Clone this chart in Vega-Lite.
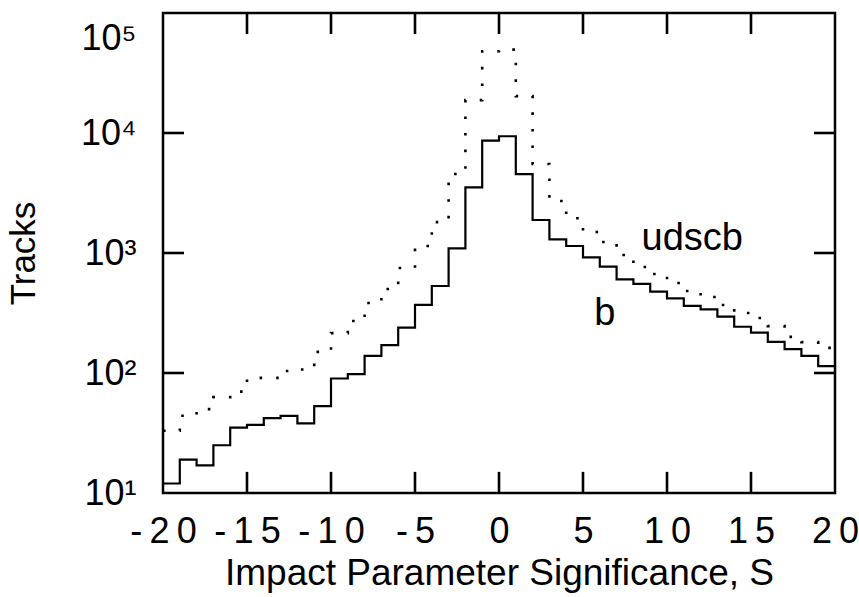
{
  "$schema": "https://vega.github.io/schema/vega-lite/v6.json",
  "width": 672,
  "height": 480,
  "autosize": {"type": "none"},
  "padding": {"left": 163, "top": 13, "right": 24, "bottom": 104},
  "background": "white",
  "config": {
    "view": {"stroke": "black", "strokeWidth": 2.5},
    "font": "Liberation Sans",
    "axis": {
      "grid": false,
      "domain": false,
      "labelColor": "black",
      "titleColor": "black",
      "labelFont": "Liberation Sans",
      "titleFont": "Liberation Sans",
      "titleFontWeight": "normal"
    }
  },
  "datasets": {
    "hist": [
      {"S": -20, "b": 12, "udscb": 33},
      {"S": -19, "b": 19, "udscb": 44},
      {"S": -18, "b": 17, "udscb": 50},
      {"S": -17, "b": 25, "udscb": 63},
      {"S": -16, "b": 35, "udscb": 70},
      {"S": -15, "b": 37, "udscb": 91},
      {"S": -14, "b": 42, "udscb": 91},
      {"S": -13, "b": 44, "udscb": 104},
      {"S": -12, "b": 38, "udscb": 107},
      {"S": -11, "b": 53, "udscb": 150},
      {"S": -10, "b": 90, "udscb": 215},
      {"S": -9, "b": 98, "udscb": 271},
      {"S": -8, "b": 139, "udscb": 383},
      {"S": -7, "b": 171, "udscb": 501},
      {"S": -6, "b": 239, "udscb": 750},
      {"S": -5, "b": 369, "udscb": 1144},
      {"S": -4, "b": 531, "udscb": 1810},
      {"S": -3, "b": 1094, "udscb": 4550},
      {"S": -2, "b": 3527, "udscb": 18800},
      {"S": -1, "b": 8630, "udscb": 48000},
      {"S": 0, "b": 9400, "udscb": 49500},
      {"S": 1, "b": 4550, "udscb": 20300},
      {"S": 2, "b": 1884, "udscb": 5520},
      {"S": 3, "b": 1300, "udscb": 2710},
      {"S": 4, "b": 1144, "udscb": 1950},
      {"S": 5, "b": 921, "udscb": 1496},
      {"S": 6, "b": 769, "udscb": 1235},
      {"S": 7, "b": 604, "udscb": 963},
      {"S": 8, "b": 552, "udscb": 765},
      {"S": 9, "b": 476, "udscb": 668},
      {"S": 10, "b": 419, "udscb": 562},
      {"S": 11, "b": 362, "udscb": 482},
      {"S": 12, "b": 339, "udscb": 430},
      {"S": 13, "b": 295, "udscb": 369},
      {"S": 14, "b": 243, "udscb": 316},
      {"S": 15, "b": 217, "udscb": 287},
      {"S": 16, "b": 182, "udscb": 246},
      {"S": 17, "b": 158, "udscb": 200},
      {"S": 18, "b": 139, "udscb": 181},
      {"S": 19, "b": 114, "udscb": 162},
      {"S": 20, "b": 114, "udscb": 162}
    ],
    "labels": [
      {"text": "udscb", "S": 11.5, "tracks": 1060},
      {"text": "b", "S": 6.3, "tracks": 251}
    ]
  },
  "resolve": {"axis": {"x": "independent", "y": "independent"}},
  "layer": [
    {
      "data": {"name": "hist"},
      "mark": {"type": "line", "interpolate": "step-after", "color": "black", "strokeWidth": 2.2, "clip": true},
      "encoding": {
        "x": {
          "field": "S", "type": "quantitative",
          "scale": {"domain": [-20, 20], "nice": false, "zero": false},
          "axis": {
            "orient": "bottom",
            "values": [-20, -15, -10, -5, 0, 5, 10, 15, 20],
            "ticks": false,
            "labelFontSize": 36,
            "labelPadding": 21,
            "labelBaseline": "top",
            "labelFlush": false,
            "labelOverlap": false,
            "labelExpr": "join(split(replace(datum.label, '\u2212', '-'), ''), '\u2009')",
            "title": "Impact  Parameter  Significance,  S",
            "titleFontSize": 37,
            "titlePadding": 6
          }
        },
        "y": {
          "field": "b", "type": "quantitative",
          "scale": {"type": "log", "domain": [10, 100000], "nice": false},
          "axis": {
            "orient": "left",
            "values": [10, 100, 1000, 10000, 100000],
            "ticks": false,
            "labelFontSize": 36,
            "labelPadding": 27,
            "labelFlush": false,
            "labelOverlap": false,
            "labelOffset": {"condition": {"test": "datum.value == 100000", "value": 25}, "value": 0},
            "labelExpr": "'10' + ['\u2070','\u00b9','\u00b2','\u00b3','\u2074','\u2075'][round(log(datum.value) / LN10)]",
            "title": "Tracks",
            "titleFontSize": 35,
            "titlePadding": 39
          }
        }
      }
    },
    {
      "data": {"name": "hist"},
      "transform": [{"filter": {"field": "S", "oneOf": [-15, -10, -5, 0, 5, 10, 15]}}],
      "mark": {"type": "rule", "color": "black", "strokeWidth": 2.6},
      "encoding": {
        "x": {"field": "S", "type": "quantitative", "axis": null},
        "y": {"datum": 10, "type": "quantitative", "axis": null},
        "y2": {"datum": 15}
      }
    },
    {
      "data": {"name": "hist"},
      "transform": [{"filter": {"field": "S", "oneOf": [-15, -10, -5, 0, 5, 10, 15]}}],
      "mark": {"type": "rule", "color": "black", "strokeWidth": 2.6},
      "encoding": {
        "x": {"field": "S", "type": "quantitative", "axis": null},
        "y": {"datum": 100000, "type": "quantitative", "axis": null},
        "y2": {"datum": 66800}
      }
    },
    {
      "data": {"name": "hist"},
      "transform": [{"filter": {"field": "S", "equal": 0}}],
      "mark": {"type": "rule", "color": "black", "strokeWidth": 2.6},
      "encoding": {
        "y": {"datum": 100, "type": "quantitative", "axis": null},
        "x": {"datum": -20, "type": "quantitative", "axis": null},
        "x2": {"datum": -18.75}
      }
    },
    {
      "data": {"name": "hist"},
      "transform": [{"filter": {"field": "S", "equal": 0}}],
      "mark": {"type": "rule", "color": "black", "strokeWidth": 2.6},
      "encoding": {
        "y": {"datum": 1000, "type": "quantitative", "axis": null},
        "x": {"datum": -20, "type": "quantitative", "axis": null},
        "x2": {"datum": -18.75}
      }
    },
    {
      "data": {"name": "hist"},
      "transform": [{"filter": {"field": "S", "equal": 0}}],
      "mark": {"type": "rule", "color": "black", "strokeWidth": 2.6},
      "encoding": {
        "y": {"datum": 10000, "type": "quantitative", "axis": null},
        "x": {"datum": -20, "type": "quantitative", "axis": null},
        "x2": {"datum": -18.75}
      }
    },
    {
      "data": {"name": "hist"},
      "transform": [{"filter": {"field": "S", "equal": 0}}],
      "mark": {"type": "rule", "color": "black", "strokeWidth": 2.6},
      "encoding": {
        "y": {"datum": 100, "type": "quantitative", "axis": null},
        "x": {"datum": 20, "type": "quantitative", "axis": null},
        "x2": {"datum": 18.75}
      }
    },
    {
      "data": {"name": "hist"},
      "transform": [{"filter": {"field": "S", "equal": 0}}],
      "mark": {"type": "rule", "color": "black", "strokeWidth": 2.6},
      "encoding": {
        "y": {"datum": 1000, "type": "quantitative", "axis": null},
        "x": {"datum": 20, "type": "quantitative", "axis": null},
        "x2": {"datum": 18.75}
      }
    },
    {
      "data": {"name": "hist"},
      "transform": [{"filter": {"field": "S", "equal": 0}}],
      "mark": {"type": "rule", "color": "black", "strokeWidth": 2.6},
      "encoding": {
        "y": {"datum": 10000, "type": "quantitative", "axis": null},
        "x": {"datum": 20, "type": "quantitative", "axis": null},
        "x2": {"datum": 18.75}
      }
    },
    {
      "data": {"name": "hist"},
      "mark": {"type": "line", "interpolate": "step-after", "color": "black", "strokeWidth": 2.6, "strokeDash": [2.6, 14], "clip": true},
      "encoding": {
        "x": {"field": "S", "type": "quantitative", "axis": null},
        "y": {"field": "udscb", "type": "quantitative", "axis": null}
      }
    },
    {
      "data": {"name": "labels"},
      "mark": {"type": "text", "fontSize": 38, "font": "Liberation Sans", "color": "black", "align": "center", "baseline": "alphabetic"},
      "encoding": {
        "x": {"field": "S", "type": "quantitative", "axis": null},
        "y": {"field": "tracks", "type": "quantitative", "axis": null},
        "text": {"field": "text"}
      }
    }
  ]
}
